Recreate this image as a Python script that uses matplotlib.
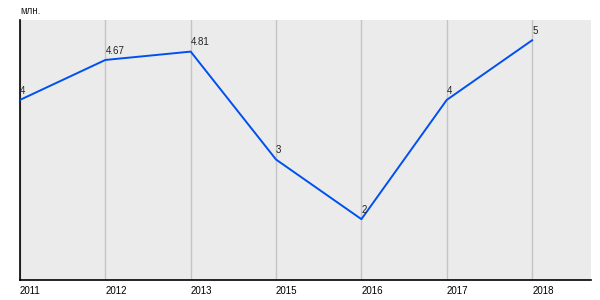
import matplotlib
matplotlib.use('Agg')
import matplotlib.pyplot as plt
import numpy as np

years = ['2011', '2012', '2013', '2015', '2016', '2017', '2018']
values = [4, 4.67, 4.81, 3, 2, 4, 5]
labels = ['4', '4.67', '4.81', '3', '2', '4', '5']

plt.rcParams['font.family'] = ['Liberation Sans', 'DejaVu Sans']

fig = plt.figure(figsize=(6, 3), dpi=100)
ax = fig.add_axes([20 / 600, 20 / 300, 571 / 600, 260 / 300])
ax.set_facecolor('#EBEBEB')

x = np.arange(len(years))
ax.plot(x, values, color='#0050F0', linewidth=1.4, zorder=3)

for xi, v, lab in zip(x, values, labels):
    ax.annotate(lab, (xi, v), xytext=(0, 3), textcoords='offset points',
                ha='left', va='bottom', fontsize=7, color='#222222', zorder=4)

ax.set_xlim(0, 6.69)
ax.set_ylim(0.98, 5.34)
ax.set_xticks(x)
ax.set_xticklabels(years, fontsize=7, ha='left')
ax.set_yticks([])
ax.tick_params(axis='x', length=0, pad=4)
ax.grid(True, axis='x', color='#C4C4C4', linewidth=1)
ax.set_axisbelow(True)

for side in ['top', 'right']:
    ax.spines[side].set_visible(False)
ax.spines['left'].set_color('black')
ax.spines['bottom'].set_color('black')
ax.spines['left'].set_linewidth(1.2)
ax.spines['bottom'].set_linewidth(1.2)

fig.text(20 / 600, 1 - 11 / 300, 'млн.', fontsize=7, ha='left', va='center', color='#222222')

fig.savefig('out.png', dpi=100)
